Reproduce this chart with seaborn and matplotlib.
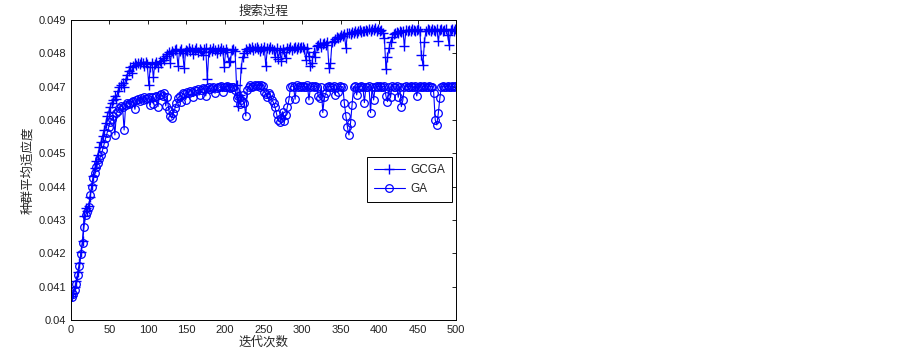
import numpy as np
import pandas as pd
import matplotlib
matplotlib.use('Agg')
import matplotlib.pyplot as plt
from matplotlib.ticker import FuncFormatter
import seaborn as sns

# 迭代次数（每隔一代取一个点）
iters = list(range(1, 500, 2))

# GCGA 种群平均适应度
gcga = [
    .04072, .04081, .04098, .04118, .04145, .04172, .04205, .04238, .04312, .04335,
    .04328, .04342, .04370, .04405, .04432, .04455, .04478, .04495, .04520, .04535,
    .04552, .04570, .04590, .04612, .04625, .04640, .04652, .04660, .04672, .04662,
    .04688, .04700, .04705, .04712, .04698, .04722, .04735, .04748, .04758, .04742,
    .04762, .04770, .04765, .04772, .04768, .04775, .04770, .04762, .04774, .04768,
    .04705, .04760, .04772, .04730, .04768, .04775, .04760, .04778, .04770, .04785,
    .04780, .04792, .04798, .04805, .04772, .04808, .04802, .04810, .04812, .04762,
    .04806, .04812, .04800, .04755, .04810, .04808, .04815, .04806, .04812, .04798,
    .04810, .04815, .04803, .04812, .04808, .04795, .04812, .04815, .04722, .04805,
    .04812, .04806, .04815, .04810, .04800, .04812, .04808, .04815, .04810, .04760,
    .04812, .04805, .04775, .04778, .04810, .04812, .04808, .04705, .04642, .04675,
    .04755, .04790, .04800, .04812, .04808, .04815, .04812, .04818, .04810, .04815,
    .04818, .04812, .04808, .04815, .04810, .04818, .04762, .04815, .04812, .04818,
    .04812, .04810, .04790, .04815, .04782, .04810, .04778, .04812, .04805, .04785,
    .04815, .04812, .04818, .04810, .04815, .04820, .04812, .04818, .04815, .04820,
    .04818, .04812, .04780, .04815, .04792, .04762, .04770, .04805, .04790, .04822,
    .04825, .04830, .04820, .04828, .04832, .04825, .04835, .04755, .04770, .04835,
    .04838, .04842, .04848, .04845, .04850, .04855, .04852, .04858, .04815, .04860,
    .04862, .04858, .04865, .04860, .04868, .04862, .04866, .04870, .04864, .04868,
    .04866, .04870, .04868, .04872, .04866, .04874, .04870, .04876, .04868, .04872,
    .04866, .04870, .04862, .04845, .04752, .04790, .04815, .04835, .04848, .04858,
    .04862, .04865, .04860, .04868, .04865, .04868, .04822, .04870, .04866, .04870,
    .04868, .04872, .04870, .04866, .04870, .04872, .04868, .04795, .04765, .04835,
    .04868, .04872, .04870, .04868, .04872, .04870, .04866, .04872, .04838, .04870,
    .04872, .04868, .04870, .04872, .04855, .04825, .04870, .04872, .04868, .04872,
]

# GA 种群平均适应度
ga = [
    .04070, .04078, .04090, .04108, .04135, .04162, .04198, .04232, .04280, .04315,
    .04325, .04340, .04375, .04400, .04425, .04440, .04458, .04470, .04482, .04495,
    .04510, .04528, .04545, .04562, .04580, .04595, .04602, .04612, .04555, .04620,
    .04628, .04635, .04642, .04638, .04570, .04645, .04652, .04648, .04650, .04655,
    .04658, .04632, .04660, .04662, .04658, .04665, .04660, .04668, .04662, .04665,
    .04668, .04645, .04670, .04648, .04668, .04672, .04640, .04675, .04678, .04672,
    .04680, .04642, .04668, .04630, .04612, .04605, .04620, .04635, .04652, .04665,
    .04672, .04655, .04680, .04678, .04660, .04685, .04682, .04688, .04685, .04670,
    .04690, .04688, .04692, .04675, .04690, .04695, .04692, .04672, .04695, .04698,
    .04692, .04695, .04698, .04680, .04695, .04700, .04698, .04702, .04685, .04700,
    .04698, .04702, .04700, .04696, .04700, .04698, .04690, .04665, .04672, .04648,
    .04660, .04675, .04652, .04612, .04690, .04700, .04705, .04698, .04702, .04706,
    .04702, .04705, .04700, .04706, .04702, .04685, .04678, .04670, .04682, .04675,
    .04660, .04652, .04638, .04618, .04600, .04595, .04605, .04625, .04598, .04615,
    .04640, .04660, .04698, .04702, .04700, .04662, .04705, .04700, .04702, .04698,
    .04702, .04700, .04698, .04705, .04660, .04700, .04702, .04698, .04702, .04700,
    .04672, .04665, .04700, .04622, .04668, .04680, .04700, .04702, .04698, .04700,
    .04702, .04675, .04700, .04685, .04702, .04698, .04700, .04650, .04612, .04578,
    .04555, .04590, .04645, .04700, .04702, .04675, .04700, .04698, .04702, .04700,
    .04652, .04700, .04698, .04702, .04622, .04700, .04660, .04698, .04702, .04700,
    .04702, .04698, .04700, .04702, .04672, .04655, .04700, .04668, .04702, .04700,
    .04698, .04702, .04668, .04700, .04640, .04660, .04700, .04702, .04698, .04700,
    .04702, .04700, .04698, .04702, .04672, .04700, .04702, .04698, .04700, .04702,
    .04700, .04698, .04702, .04700, .04700, .04682, .04600, .04585, .04620, .04665,
    .04700, .04702, .04698, .04700, .04702, .04700, .04698, .04702, .04700, .04702,
]

x_ticks = list(range(0, 501, 50))
y_ticks = [0.040, 0.041, 0.042, 0.043, 0.044, 0.045, 0.046, 0.047, 0.048, 0.049]

sns.set_style('white')
plt.rcParams['font.family'] = ['Liberation Sans', 'Noto Sans CJK SC', 'DejaVu Sans']
plt.rcParams['axes.unicode_minus'] = False

df = pd.DataFrame({'iter': iters * 2,
                   'fit': gcga + ga,
                   'alg': ['GCGA'] * len(iters) + ['GA'] * len(iters)})

fig = plt.figure(figsize=(9.03, 3.53), dpi=100)
ax = fig.add_axes([0.0786, 0.0935, 0.4264, 0.85])

blue = '#0000FF'
sns.lineplot(data=df[df.alg == 'GCGA'], x='iter', y='fit', ax=ax, color=blue,
             linewidth=0.8, marker='+', markersize=7, markeredgewidth=1.0,
             markeredgecolor=blue, label='GCGA', estimator=None)
sns.lineplot(data=df[df.alg == 'GA'], x='iter', y='fit', ax=ax, color=blue,
             linewidth=0.8, marker='o', markersize=5.5, markerfacecolor='none',
             markeredgewidth=0.9, markeredgecolor=blue, label='GA', estimator=None)

ax.set_xlim(0, 500)
ax.set_ylim(0.040, 0.049)
ax.set_xticks(x_ticks)
ax.set_yticks(y_ticks)
ax.yaxis.set_major_formatter(FuncFormatter(lambda v, p: f'{v:g}'))
ax.tick_params(direction='in', length=3, width=0.6, labelsize=8, colors='black',
               top=True, right=True, labelcolor='#222222')
for s in ax.spines.values():
    s.set_visible(True)
    s.set_color('black')
    s.set_linewidth(0.7)

ax.set_title('搜索过程', fontsize=9, pad=4)
ax.set_xlabel('迭代次数', fontsize=9, labelpad=1)
ax.set_ylabel('种群平均适应度', fontsize=9, labelpad=3)

leg = ax.legend(loc='upper right', bbox_to_anchor=(1.0, 0.555), fontsize=8.5,
                frameon=True, fancybox=False, framealpha=1, edgecolor='black',
                borderpad=0.6, handlelength=2.6, handletextpad=0.5,
                labelspacing=0.6, borderaxespad=0.3)
leg.get_frame().set_linewidth(0.7)

fig.savefig('out.png', dpi=100)
